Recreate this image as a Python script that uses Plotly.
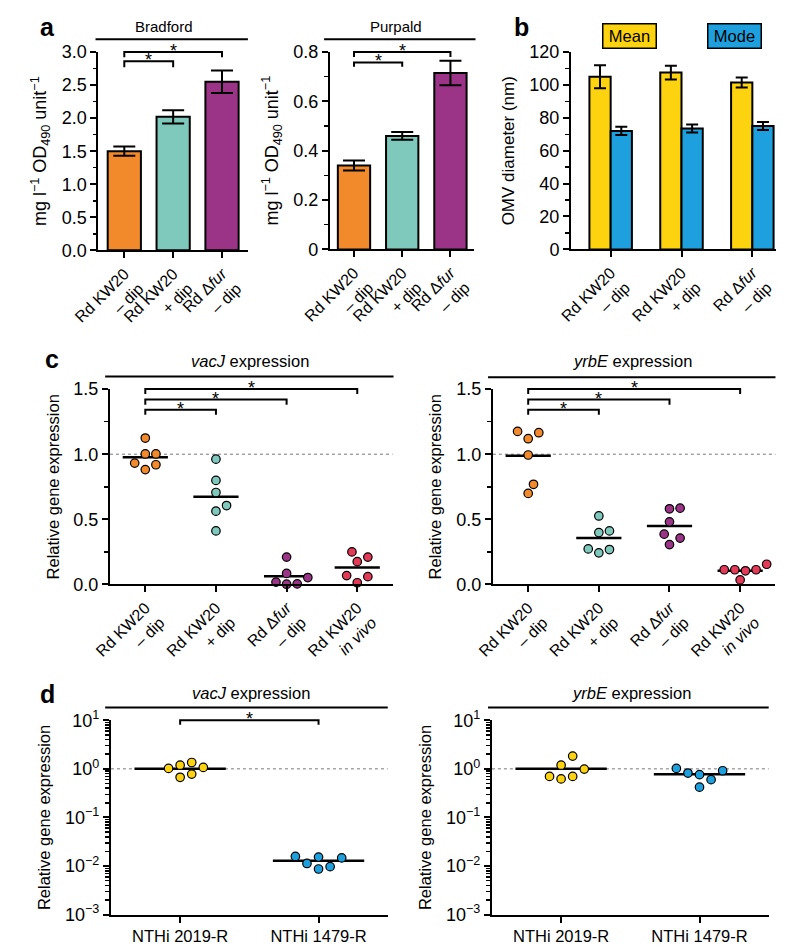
import numpy as np
import plotly.graph_objects as go

W, H = 788, 952

# ---------------- data ----------------
cond_a = ["Rd KW20<br>– dip", "Rd KW20<br>+ dip", "Rd Δ<i>fur</i><br>– dip"]
bradford = [1.50, 2.02, 2.55]
bradford_err = [0.07, 0.10, 0.17]
purpald = [0.34, 0.46, 0.715]
purpald_err = [0.02, 0.016, 0.05]

omv_mean = [105.0, 107.5, 101.5]
omv_mean_err = [7.0, 4.2, 3.0]
omv_mode = [72.0, 73.5, 75.0]
omv_mode_err = [2.5, 2.4, 2.4]

cond_c = ["Rd KW20<br>– dip", "Rd KW20<br>+ dip", "Rd Δ<i>fur</i><br>– dip", "Rd KW20<br><i>in vivo</i>"]
vacj_minus_dip = [1.124, 1.002, 1.002, 0.932, 0.919, 0.882]
vacj_plus_dip = [0.962, 0.799, 0.706, 0.606, 0.563, 0.411]
vacj_fur = [0.210, 0.085, 0.053, 0.018, 0.004, 0.002]
vacj_in_vivo = [0.250, 0.210, 0.175, 0.068, 0.060, 0.013]
vacj_means = [0.977, 0.674, 0.063, 0.130]

yrbe_minus_dip = [1.175, 1.165, 1.119, 0.994, 0.769, 0.699]
yrbe_plus_dip = [0.526, 0.411, 0.398, 0.273, 0.268, 0.243]
yrbe_fur = [0.586, 0.581, 0.481, 0.386, 0.356, 0.306]
yrbe_in_vivo = [0.155, 0.113, 0.113, 0.113, 0.105, 0.035]
yrbe_means = [0.989, 0.356, 0.448, 0.105]

strains_d = ["NTHi 2019-R", "NTHi 1479-R"]
d_vacj_2019 = [1.35, 1.19, 1.07, 1.02, 0.78, 0.67]
d_vacj_1479 = [0.0158, 0.0153, 0.0147, 0.0113, 0.0097, 0.0087]
d_vacj_means = [1.0, 0.0128]
d_yrbe_2019 = [1.83, 1.19, 0.99, 0.70, 0.70, 0.62]
d_yrbe_1479 = [1.02, 0.915, 0.82, 0.76, 0.60, 0.42]
d_yrbe_means = [1.0, 0.77]

# ---------------- style ----------------
ORANGE, TEAL, PURPLE, RED = "#F28A2B", "#7EC8BC", "#9B3487", "#E53958"
YELLOW, BLUE = "#FDD20E", "#1FA0DE"
FONT = "Liberation Sans, Arial, Helvetica, sans-serif"
FS = 16.5
FS_TICK = 18

# panel geometry in pixels: (left, right), (top, bottom)
geo = {
    "a1": dict(px=(73, 228), py=(41, 244), xr=[-0.53, 2.53], yr=[0, 3.0]),
    "a2": dict(px=(313, 462), py=(41, 243), xr=[-0.5, 2.48], yr=[0, 0.8]),
    "b": dict(px=(563, 776), py=(41, 243), xr=[-0.56, 2.34], yr=[0, 120]),
    "c1": dict(px=(85, 378), py=(386, 586), xr=[-0.5, 3.5], yr=[0, 1.5]),
    "c2": dict(px=(482, 775), py=(386, 586), xr=[-0.5, 3.5], yr=[0, 1.5]),
    "d1": dict(px=(86, 373), py=(725, 924), xr=[-0.5, 1.5], yr=[-3, 1]),
    "d2": dict(px=(481, 768), py=(725, 924), xr=[-0.5, 1.5], yr=[-3, 1]),
}
ids = {"a1": "", "a2": "2", "b": "3", "c1": "4", "c2": "5", "d1": "6", "d2": "7"}


def fx(p):
    return p / W


def fy(p):
    return 1 - p / H


def ydom(key, v, log=False):
    r0, r1 = geo[key]["yr"]
    if log:
        v = np.log10(v)
    return (v - r0) / (r1 - r0)


def swarm(key, vals, diam=11.0, log=False):
    """simple centre-out beeswarm: horizontal offsets (in axis units) that avoid overlaps"""
    g = geo[key]
    xppu = (g["px"][1] - g["px"][0]) / (g["xr"][1] - g["xr"][0])
    yppu = (g["py"][1] - g["py"][0]) / (g["yr"][1] - g["yr"][0])
    v = np.log10(vals) if log else np.asarray(vals, float)
    ypx = v * yppu
    order = np.argsort(ypx)
    placed = []
    offs = np.zeros(len(vals))
    step = diam / 2
    cands = [0.0] + [s * k * step for k in range(1, 30) for s in (1, -1)]
    for i in order:
        for c in cands:
            if all((c - px) ** 2 + (ypx[i] - py) ** 2 >= (diam * 0.97) ** 2 for px, py in placed):
                offs[i] = c
                placed.append((c, ypx[i]))
                break
    return offs / xppu


fig = go.Figure()

axis_base = dict(showline=True, linecolor="black", linewidth=2, ticks="outside",
                 tickcolor="black", tickwidth=2, ticklen=6, showgrid=False,
                 zeroline=False, fixedrange=True,
                 tickfont=dict(size=FS_TICK, color="black", family=FONT))

layout = dict(width=W, height=H, margin=dict(l=0, r=0, t=0, b=0),
              paper_bgcolor="white", plot_bgcolor="white", showlegend=False,
              barmode="overlay", font=dict(family=FONT, size=FS, color="black"))

ytitles = {
    "a1": "mg l<sup>−1</sup> OD<sub>490</sub> unit<sup>−1</sup>",
    "a2": "mg l<sup>−1</sup> OD<sub>490</sub> unit<sup>−1</sup>",
    "b": "OMV diameter (nm)",
    "c1": "Relative gene expression",
    "c2": "Relative gene expression",
    "d1": "Relative gene expression",
    "d2": "Relative gene expression",
}
ytitle_size = {"a1": 18, "a2": 18, "b": 17, "c1": FS, "c2": FS, "d1": FS, "d2": FS}
xlabels = {"a1": cond_a, "a2": cond_a, "b": cond_a, "c1": cond_c, "c2": cond_c,
           "d1": strains_d, "d2": strains_d}
ytick = {
    "a1": dict(tickvals=[0, 0.5, 1, 1.5, 2, 2.5, 3], ticktext=["0.0", "0.5", "1.0", "1.5", "2.0", "2.5", "3.0"], minor=0.25),
    "a2": dict(tickvals=[0, 0.2, 0.4, 0.6, 0.8], ticktext=["0", "0.2", "0.4", "0.6", "0.8"], minor=0.1),
    "b": dict(tickvals=[0, 20, 40, 60, 80, 100, 120], ticktext=["0", "20", "40", "60", "80", "100", "120"], minor=10),
    "c1": dict(tickvals=[0, 0.5, 1, 1.5], ticktext=["0.0", "0.5", "1.0", "1.5"], minor=0.25),
    "c2": dict(tickvals=[0, 0.5, 1, 1.5], ticktext=["0.0", "0.5", "1.0", "1.5"], minor=0.25),
}
logticks = dict(tickvals=[0.001, 0.01, 0.1, 1, 10],
                ticktext=["10<sup>−3</sup>", "10<sup>−2</sup>", "10<sup>−1</sup>", "10<sup>0</sup>", "10<sup>1</sup>"])
logminor = [k * 10.0 ** e for e in range(-3, 1) for k in range(2, 10)]

for key, g in geo.items():
    s = ids[key]
    xa = dict(axis_base)
    xa.update(domain=[fx(g["px"][0]), fx(g["px"][1])], range=g["xr"], anchor="y" + s,
              tickmode="array", tickvals=list(range(len(xlabels[key]))), ticktext=xlabels[key])
    if key.startswith("d"):
        xa.update(tickangle=0, tickfont=dict(size=FS, color="black", family=FONT))
    else:
        xa.update(tickangle=-45, tickfont=dict(size=16, color="black", family=FONT))
    ya = dict(axis_base)
    ya.update(domain=[fy(g["py"][1]), fy(g["py"][0])], anchor="x" + s,
              title=dict(text=ytitles[key], font=dict(size=ytitle_size[key], color="black", family=FONT),
                         standoff=10))
    if key.startswith("d"):
        ya.update(type="log", range=g["yr"], tickmode="array", **logticks,
                  minor=dict(tickmode="array", tickvals=logminor, ticks="outside", ticklen=3.5,
                             tickwidth=1.5, tickcolor="black"))
    else:
        t = ytick[key]
        ya.update(range=g["yr"], tickmode="array", tickvals=t["tickvals"], ticktext=t["ticktext"],
                  minor=dict(dtick=t["minor"], tick0=0, ticks="outside", ticklen=3.5,
                             tickwidth=1.5, tickcolor="black"))
    layout["xaxis" + s] = xa
    layout["yaxis" + s] = ya

# ---------------- panel a ----------------
err_style = dict(type="data", color="black", thickness=2)
fig.add_trace(go.Bar(x=list(range(3)), y=bradford, width=0.68,
                     marker=dict(color=[ORANGE, TEAL, PURPLE], line=dict(color="black", width=2)),
                     error_y=dict(array=bradford_err, width=11, **err_style),
                     xaxis="x", yaxis="y"))
fig.add_trace(go.Bar(x=list(range(3)), y=purpald, width=0.67,
                     marker=dict(color=[ORANGE, TEAL, PURPLE], line=dict(color="black", width=2)),
                     error_y=dict(array=purpald_err, width=11, **err_style),
                     xaxis="x2", yaxis="y2"))

# ---------------- panel b ----------------
fig.add_trace(go.Bar(x=list(range(3)), y=omv_mean, width=0.3, offset=-0.3,
                     marker=dict(color=YELLOW, line=dict(color="black", width=2)),
                     error_y=dict(array=omv_mean_err, width=6, **err_style),
                     xaxis="x3", yaxis="y3"))
fig.add_trace(go.Bar(x=list(range(3)), y=omv_mode, width=0.3, offset=0.0,
                     marker=dict(color=BLUE, line=dict(color="black", width=2)),
                     error_y=dict(array=omv_mode_err, width=6, **err_style),
                     xaxis="x3", yaxis="y3"))


# ---------------- scatter panels ----------------
def dot_panel(key, groups, colors, means, log=False, hw=0.32, diam=11.0):
    s = ids[key]
    mx, my = [], []
    for i, m in enumerate(means):
        mx += [i - hw, i + hw, None]
        my += [m, m, None]
    fig.add_trace(go.Scatter(x=mx, y=my, mode="lines", line=dict(color="black", width=2.5),
                             xaxis="x" + s, yaxis="y" + s, hoverinfo="skip"))
    for i, (vals, col) in enumerate(zip(groups, colors)):
        xs = i + swarm(key, vals, diam=diam, log=log)
        fig.add_trace(go.Scatter(x=xs, y=vals, mode="markers", cliponaxis=False,
                                 marker=dict(size=8.5, color=col, line=dict(color="black", width=1.2)),
                                 xaxis="x" + s, yaxis="y" + s))


dot_panel("c1", [vacj_minus_dip, vacj_plus_dip, vacj_fur, vacj_in_vivo], [ORANGE, TEAL, PURPLE, RED], vacj_means)
dot_panel("c2", [yrbe_minus_dip, yrbe_plus_dip, yrbe_fur, yrbe_in_vivo], [ORANGE, TEAL, PURPLE, RED], yrbe_means)
dot_panel("d1", [d_vacj_2019, d_vacj_1479], [YELLOW, BLUE], d_vacj_means, log=True, hw=0.33, diam=12.0)
dot_panel("d2", [d_yrbe_2019, d_yrbe_1479], [YELLOW, BLUE], d_yrbe_means, log=True, hw=0.33, diam=12.0)

shapes = []
annotations = []

# dotted reference lines at 1
for key in ["c1", "c2", "d1", "d2"]:
    s = ids[key]
    shapes.append(dict(type="line", xref="x%s domain" % s, yref="y" + s, x0=0, x1=1, y0=1, y1=1,
                       line=dict(color="#777777", width=1, dash="dot"), layer="below"))


# significance brackets
def bracket(key, a, b, top, drop, log=False):
    s = ids[key]
    yt = ydom(key, top, log)
    yd = ydom(key, drop, log)
    shapes.append(dict(type="path", xref="x" + s, yref="y%s domain" % s,
                       path="M %s,%s L %s,%s L %s,%s L %s,%s" % (a, yd, a, yt, b, yt, b, yd),
                       line=dict(color="black", width=2)))
    annotations.append(dict(x=(a + b) / 2, y=yt, xref="x" + s, yref="y%s domain" % s,
                            text="*", showarrow=False, yanchor="middle", yshift=1,
                            font=dict(size=18, color="black", family=FONT)))


bracket("a1", 0, 1, 2.86, 2.77)
bracket("a1", 0, 2, 3.0, 2.92)
bracket("a2", 0, 1, 0.758, 0.74)
bracket("a2", 0, 2, 0.80, 0.78)
for key in ["c1", "c2"]:
    bracket(key, 0, 1, 1.342, 1.302)
    bracket(key, 0, 2, 1.42, 1.38)
    bracket(key, 0, 3, 1.50, 1.4625)
bracket("d1", 0, 1, 10.0, 8.1, log=True)

# title lines and titles
title_lines = [(70, 228, 28), (307, 464, 28), (80, 379, 373), (477, 775, 374), (80, 373, 712), (477, 768, 712)]
for x0, x1, yy in title_lines:
    shapes.append(dict(type="line", xref="paper", yref="paper", x0=fx(x0), x1=fx(x1),
                       y0=fy(yy), y1=fy(yy), line=dict(color="black", width=2)))

titles = [("Bradford", 141, 15, 15), ("Purpald", 382, 15, 15),
          ("<i>vacJ</i> expression", 230, 357, FS), ("<i>yrbE</i> expression", 627, 357, FS),
          ("<i>vacJ</i> expression", 231, 697, FS), ("<i>yrbE</i> expression", 626, 697, FS)]
for t, xx, yy, fs in titles:
    annotations.append(dict(text=t, x=fx(xx), y=fy(yy), xref="paper", yref="paper", showarrow=False,
                            xanchor="center", yanchor="middle", font=dict(size=fs, color="black", family=FONT)))

letters = [("a", 20, 15), ("b", 512, 15), ("c", 25, 355), ("d", 20, 698)]
for t, xx, yy in letters:
    annotations.append(dict(text="<b>%s</b>" % t, x=fx(xx), y=fy(yy), xref="paper", yref="paper",
                            showarrow=False, xanchor="center", yanchor="middle",
                            font=dict(size=25, color="black", family=FONT)))

# legend boxes of panel b
for t, col, xx in [("Mean", YELLOW, 624), ("Mode", BLUE, 733)]:
    annotations.append(dict(text=t, x=fx(xx), y=fy(25), xref="paper", yref="paper", showarrow=False,
                            xanchor="center", yanchor="middle", bgcolor=col, bordercolor="black",
                            borderwidth=1.5, borderpad=1, width=50, height=21,
                            font=dict(size=FS, color="black", family=FONT)))

layout["shapes"] = shapes
layout["annotations"] = annotations
fig.update_layout(**layout)
fig.write_html("out.html", config={"displayModeBar": False, "staticPlot": True},
               post_script="document.body.style.margin='0px';document.body.style.padding='0px';")
